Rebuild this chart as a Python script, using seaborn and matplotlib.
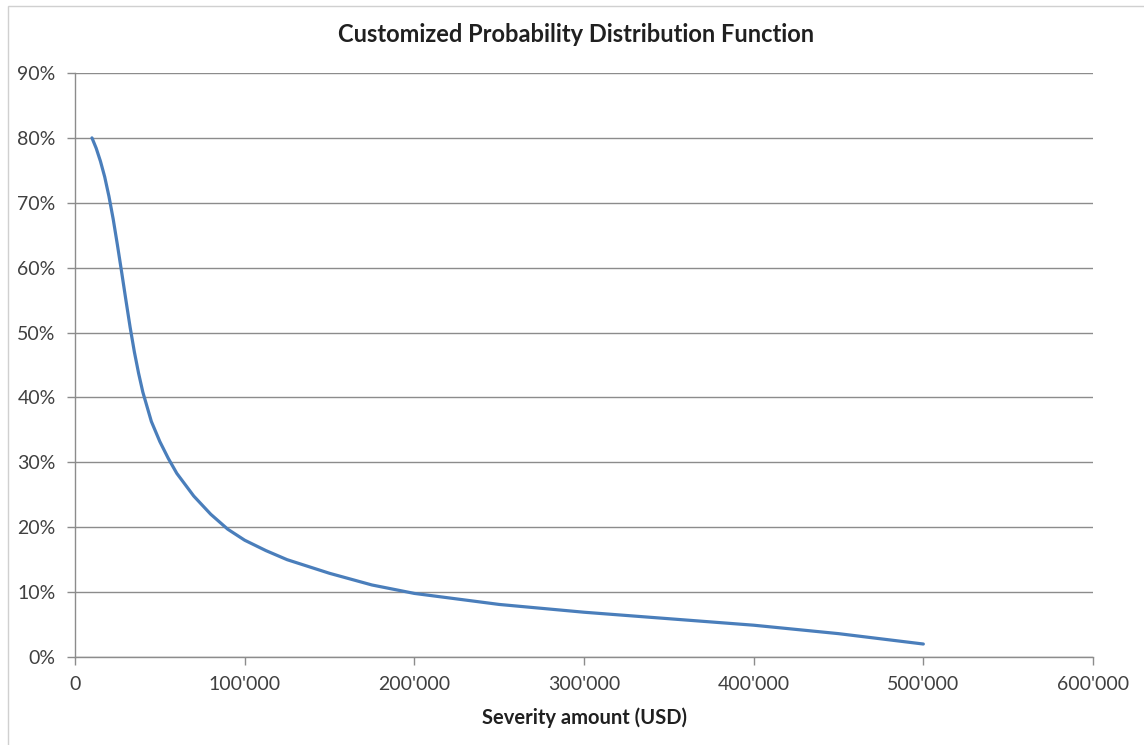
import matplotlib
matplotlib.use("Agg")
import matplotlib.pyplot as plt
from matplotlib.ticker import FuncFormatter
from matplotlib.patches import Rectangle
import pandas as pd
import seaborn as sns

# Severity amount (USD) and probability (%)
severity_usd = [10000, 12500, 15000, 17500, 20000, 22500, 25000, 27500, 30000,
                32500, 35000, 37500, 40000, 45000, 50000, 55000, 60000, 70000,
                80000, 90000, 100000, 112500, 125000, 150000, 175000, 200000,
                250000, 300000, 350000, 400000, 450000, 500000]
probability_pct = [80.0, 78.4, 76.4, 74.0, 71.0, 67.5, 63.5, 59.3, 55.0,
                   50.8, 47.0, 43.7, 40.8, 36.3, 33.2, 30.6, 28.3, 24.8,
                   22.0, 19.7, 18.0, 16.4, 15.0, 12.9, 11.1, 9.8,
                   8.1, 6.9, 5.9, 4.9, 3.6, 2.0]

x_ticks = [0, 100000, 200000, 300000, 400000, 500000, 600000]
y_ticks = [0, 10, 20, 30, 40, 50, 60, 70, 80, 90]

df = pd.DataFrame({"severity": severity_usd, "probability": probability_pct})

sns.set_style("white")
plt.rcParams["font.family"] = ["Lato", "DejaVu Sans"]

grid_color = "#8c8c8c"
text_color = "#404040"

fig = plt.figure(figsize=(11.44, 7.45), dpi=100)
ax = fig.add_axes([75 / 1144, 1 - 657 / 745, (1093 - 75) / 1144, (657 - 73) / 745])

# outer chart frame
fig.patches.append(Rectangle((8 / 1144, -0.05), 1.1, 1 - 6 / 745 + 0.05,
                             transform=fig.transFigure, fill=False,
                             edgecolor="#d0d0d0", linewidth=1.0, zorder=0))

sns.lineplot(data=df, x="severity", y="probability", ax=ax,
             color="#4a7ebb", linewidth=2.3, zorder=3)
ax.lines[-1].set_solid_joinstyle("round")
ax.lines[-1].set_solid_capstyle("round")

ax.set_xlim(0, 600000)
ax.set_ylim(0, 90)
ax.set_xticks(x_ticks)
ax.set_yticks(y_ticks)
ax.xaxis.set_major_formatter(FuncFormatter(lambda v, p: "0" if v == 0 else f"{int(v):,}".replace(",", "'")))
ax.yaxis.set_major_formatter(FuncFormatter(lambda v, p: f"{int(v)}%"))

ax.grid(axis="y", color=grid_color, linewidth=1.0)
ax.grid(axis="x", visible=False)
ax.set_axisbelow(True)
for side in ["top", "right"]:
    ax.spines[side].set_visible(False)
for side in ["left", "bottom"]:
    ax.spines[side].set_color(grid_color)
    ax.spines[side].set_linewidth(1.0)

ax.tick_params(axis="both", which="major", direction="out", length=6, width=1.0,
               color=grid_color, labelsize=14, labelcolor=text_color)
ax.tick_params(axis="y", pad=8)
ax.tick_params(axis="x", pad=8)
ax.yaxis.set_ticks_position("left")
ax.xaxis.set_ticks_position("bottom")

ax.set_xlabel("Severity amount (USD)", fontsize=14.5, fontweight="bold",
              color="#202020", labelpad=10)
ax.set_ylabel("")

fig.text(576 / 1144, 1 - 34 / 745, "Customized Probability Distribution Function",
         ha="center", va="center", fontsize=17, fontweight="bold", color="#202020")

fig.savefig("out.png", dpi=100, facecolor="white")
